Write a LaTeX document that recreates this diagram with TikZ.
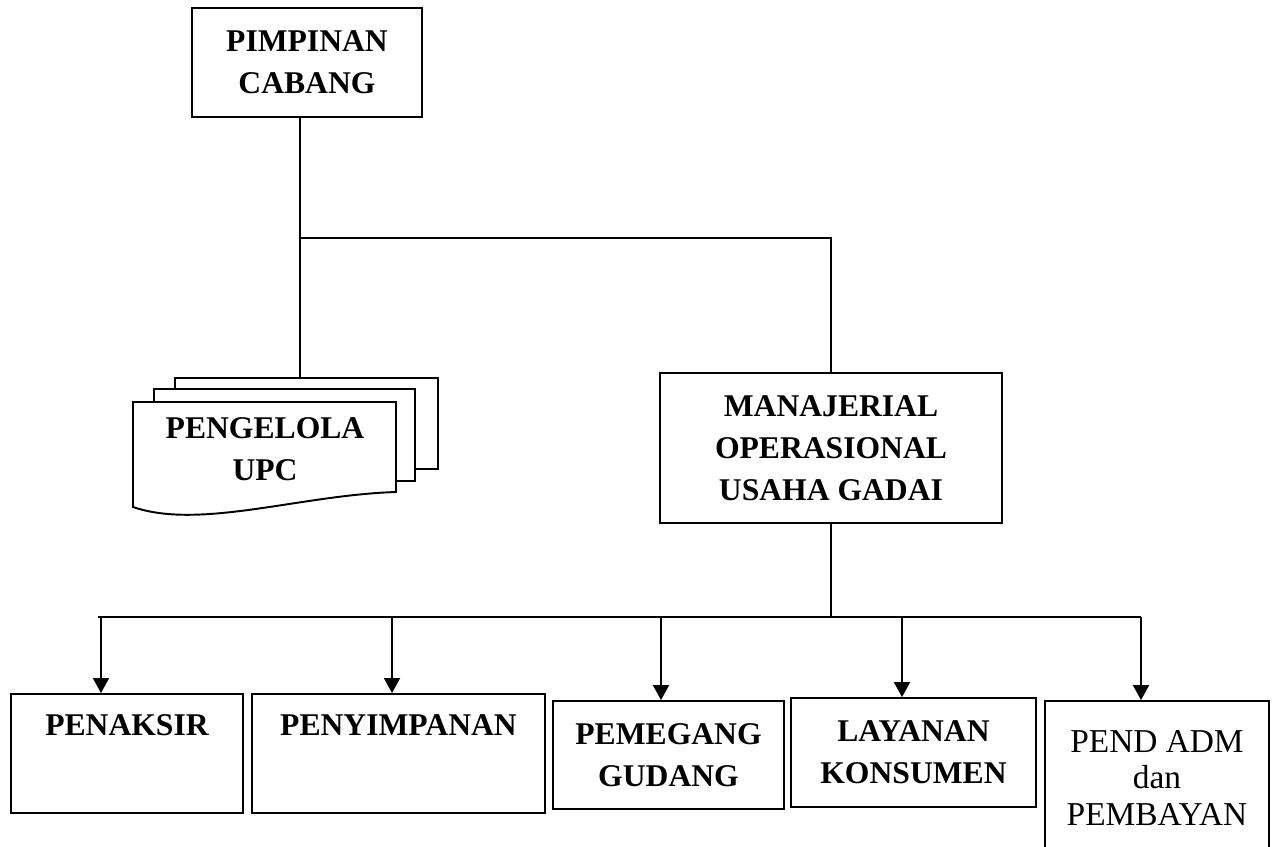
\documentclass[tikz,border=0pt]{standalone}
\usepackage{fontspec}
\setmainfont{Liberation Serif}
\usetikzlibrary{arrows.meta}

\begin{document}
\begin{tikzpicture}[
    x=0.02cm, y=-0.02cm,
    unit/.style={rectangle, draw=black, line width=1.1pt, fill=white,
                 inner sep=0pt, align=center,
                 font=\fontsize{18}{24}\selectfont\bfseries},
    toprow/.style={rectangle, draw=black, line width=1.1pt, fill=white,
                   inner sep=0pt, anchor=north,
                   text height=0.84cm, text depth=1.54cm,
                   font=\fontsize{18}{24}\selectfont\bfseries},
    page/.style={rectangle, draw=black, line width=1.1pt, fill=white,
                 inner sep=0pt},
    link/.style={line width=1.1pt},
    arr/.style={-{Triangle[length=0.3cm, width=0.32cm]}, line width=1.1pt},
]
\useasboundingbox (0,0) rectangle (1274,846);
\clip (0,0) rectangle (1274,846);

\node[unit, minimum width=4.6cm, minimum height=2.18cm] (pimpinan)
    at (307,62.5) {PIMPINAN\\CABANG};

% stacked pages of the UPC box
\node[page, minimum width=5.26cm, minimum height=1.82cm] (upc3) at (306.5,423.5) {};
\node[page, minimum width=5.22cm, minimum height=1.84cm] (upc2) at (284.5,435) {};
\draw[link, fill=white] (133,402) -- (396,402) -- (396,492)
    .. controls (300,495) and (200,530) .. (133,507) -- cycle;
\node[font=\fontsize{18}{24}\selectfont\bfseries, align=center, inner sep=0pt]
    (upc) at (265,449) {PENGELOLA\\UPC};

\node[unit, minimum width=6.84cm, minimum height=3cm] (manajerial)
    at (831,448) {MANAJERIAL\\OPERASIONAL\\USAHA GADAI};

\node[toprow, minimum width=4.64cm] (penaksir) at (127,693) {PENAKSIR};
\node[toprow, minimum width=5.86cm] (penyimpanan) at (398.5,693) {PENYIMPANAN};
\node[unit, minimum width=4.62cm, minimum height=2.16cm] (pemegang)
    at (668.5,755) {PEMEGANG\\GUDANG};
\node[unit, minimum width=4.9cm, minimum height=2.18cm] (layanan)
    at (913.5,752.5) {LAYANAN\\KONSUMEN};
\node[unit, minimum width=4.48cm, minimum height=3.08cm,
      font=\fontsize{19}{20.6}\selectfont\mdseries] (pend)
    at (1157,778) {PEND ADM\\dan\\PEMBAYAN};

\coordinate (j1) at (300,238);
\draw[link] (j1 |- pimpinan.south) -- (j1 |- upc3.north);
\draw[link] (j1) -| (manajerial.north);

\coordinate (busL) at (98,617);
\coordinate (busR) at (1141,617);
\draw[link] (manajerial.south) -- (manajerial.south |- busL);
\draw[link] (busL) -- (busR);
\foreach \x/\nm [count=\i] in {101/penaksir, 392/penyimpanan, 661/pemegang,
                               902/layanan, 1141/pend} {
    \coordinate (d\i) at (\x,617);
    \draw[arr] (d\i) -- (d\i |- \nm.north);
}

\end{tikzpicture}
\end{document}
